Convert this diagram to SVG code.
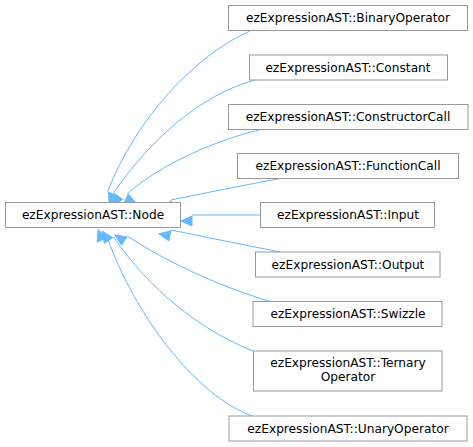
<svg xmlns="http://www.w3.org/2000/svg" width="473" height="447" viewBox="0 0 473 447">
<style>
.n rect{fill:#fff;stroke:#999;stroke-width:1}
.n text{font-family:"DejaVu Sans",sans-serif;font-size:12.2px;fill:#000;text-anchor:middle}
.e path{fill:none;stroke:#63b8ff;stroke-width:1;marker-end:url(#ah)}
</style>
<defs>
<marker id="ah" markerUnits="userSpaceOnUse" markerWidth="14" markerHeight="12" refX="0" refY="6" orient="auto" viewBox="-1 -6 14 12" overflow="visible">
<path d="M0,-5 L11,0 L0,5 z" fill="#63b8ff" stroke="#63b8ff" stroke-width="1"/>
</marker>
</defs>
<rect width="473" height="447" fill="#fff"/>
<g id="edges" class="e">
<path d="M250,31 C195,55 135,120 107.5,192"/>
<path d="M255,80 C200,95 150,140 113.5,193"/>
<path d="M263,129 C215,140 160,165 127.5,193.5"/>
<path d="M280,178.5 C240,186 200,194 171,200"/>
<path d="M260.5,215 L192,215"/>
<path d="M280,252 C240,244 200,236 171,230"/>
<path d="M270,301.5 C215,285 160,258 127.5,236"/>
<path d="M253,351 C200,330 150,290 113.5,237"/>
<path d="M252,416 C195,395 135,315 107.5,238"/>
</g>
<g id="node-Node" class="n"><rect x="5.5" y="202.5" width="175" height="25"/><text x="93" y="219.3">ezExpressionAST::Node</text></g>
<g id="node-BinaryOperator" class="n"><rect x="228.5" y="5.5" width="239" height="25"/><text x="348" y="22.3">ezExpressionAST::BinaryOperator</text></g>
<g id="node-Constant" class="n"><rect x="249.5" y="55" width="198" height="25"/><text x="348" y="71.8">ezExpressionAST::Constant</text></g>
<g id="node-ConstructorCall" class="n"><rect x="228.5" y="104.5" width="239.5" height="25"/><text x="348" y="121.3">ezExpressionAST::ConstructorCall</text></g>
<g id="node-FunctionCall" class="n"><rect x="237.5" y="153.5" width="221" height="25"/><text x="348" y="170.3">ezExpressionAST::FunctionCall</text></g>
<g id="node-Input" class="n"><rect x="260.5" y="202.5" width="174" height="25"/><text x="348" y="219.3">ezExpressionAST::Input</text></g>
<g id="node-Output" class="n"><rect x="255.5" y="252" width="184.5" height="25"/><text x="348" y="268.8">ezExpressionAST::Output</text></g>
<g id="node-Swizzle" class="n"><rect x="253" y="301.5" width="189" height="25"/><text x="348" y="318.3">ezExpressionAST::Swizzle</text></g>
<g id="node-TernaryOperator" class="n"><rect x="253.5" y="351" width="188.5" height="40"/><text x="348" y="367">ezExpressionAST::Ternary</text><text x="348" y="381">Operator</text></g>
<g id="node-UnaryOperator" class="n"><rect x="229" y="416" width="238" height="25"/><text x="348" y="432.8">ezExpressionAST::UnaryOperator</text></g>
</svg>
